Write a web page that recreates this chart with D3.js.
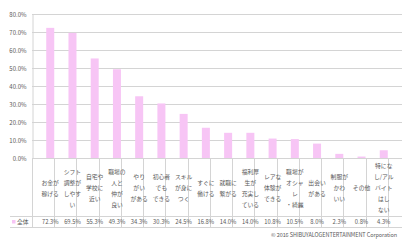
<!DOCTYPE html>
<html>
<head>
<meta charset="utf-8">
<script src="https://cdn.jsdelivr.net/npm/d3@7"></script>
<style>
    body { margin: 0; background: #fff; }
    text { font-family: "Noto Sans CJK JP", "Noto Sans", sans-serif; fill: #595959; }
</style>
</head>
<body>
<script>
// categories (line breaks as in the table)
const categories = [
    "お金が\n稼げる", "シフト\n調整が\nしやす\nい", "自宅や\n学校に\n近い", "職場の\n人と\n仲が\n良い",
    "やり\nがい\nがある", "初心者\nでも\nできる", "スキル\nが身に\nつく", "すぐに\n働ける",
    "就職に\n繋がる", "福利厚\n生が\n充実し\nている", "レアな\n体験が\nできる", "職場が\nオシャ\nレ\n・綺麗",
    "出会い\nがある", "制服が\nかわ\nいい", "その他", "特にな\nし/アル\nバイト\nはし\nない"
];
const values = [72.3, 69.5, 55.3, 49.3, 34.3, 30.3, 24.5, 16.8, 14.0, 14.0, 10.8, 10.5, 8.0, 2.3, 0.8, 4.3];
const yTicks = [0, 10, 20, 30, 40, 50, 60, 70, 80];
const seriesName = "全体";

const width = 403, height = 242;
const plotLeft = 32, plotRight = 402, plotTop = 14, plotBottom = 158;
const rowSplit = 216, rowEnd = 227;
const pink = "#f7c5f5";

let svg = d3.select("body")
    .append("svg")
    .attr("width", width)
    .attr("height", height);

let x = d3.scaleBand()
    .domain(d3.range(categories.length))
    .range([plotLeft, plotRight])
    .padding(0.64);

let y = d3.scaleLinear()
    .domain([0, 80])
    .range([plotBottom, plotTop]);

// gridlines
svg.selectAll("line.grid")
    .data(yTicks)
    .enter()
    .append("line")
    .attr("class", "grid")
    .attr("x1", plotLeft)
    .attr("x2", plotRight)
    .attr("y1", d => y(d) + 0.5)
    .attr("y2", d => y(d) + 0.5)
    .attr("stroke", "#d4d4d4")
    .attr("stroke-width", 1);

// y axis
let yAxis = svg.append("g")
    .attr("transform", `translate(${plotLeft + 0.5},0)`)
    .call(d3.axisLeft(y).tickValues(yTicks).tickSize(0).tickPadding(6)
        .tickFormat(d => d.toFixed(1) + "%"));
yAxis.select(".domain").attr("stroke", "#d4d4d4");
yAxis.selectAll("text")
    .attr("font-size", "6px")
    .attr("font-family", "\"Noto Sans CJK JP\", sans-serif")
    .attr("fill", "#595959")
    .attr("dy", "0.35em");

// bars
svg.selectAll("rect.bar")
    .data(values)
    .enter()
    .append("rect")
    .attr("class", "bar")
    .attr("x", (d, i) => x(i))
    .attr("width", x.bandwidth())
    .attr("y", d => y(d))
    .attr("height", d => y(0) - y(d))
    .attr("fill", pink);

// table lines
const step = x.step();
let table = svg.append("g");
let colEdges = d3.range(categories.length + 1).map(i => plotLeft + i * step);
table.selectAll("line.col")
    .data(colEdges)
    .enter()
    .append("line")
    .attr("x1", d => Math.round(d) + 0.5)
    .attr("x2", d => Math.round(d) + 0.5)
    .attr("y1", plotBottom)
    .attr("y2", rowEnd)
    .attr("stroke", "#d4d4d4");
[rowSplit, rowEnd].forEach(yy => {
    table.append("line")
        .attr("x1", 10)
        .attr("x2", plotRight)
        .attr("y1", yy + 0.5)
        .attr("y2", yy + 0.5)
        .attr("stroke", "#d4d4d4");
});

// category labels
const lineH = 11;
const midY = (plotBottom + rowSplit) / 2 + 1;
categories.forEach((c, i) => {
    let lines = c.split("\n");
    let cx = x(i) + x.bandwidth() / 2;
    let t = table.append("text")
        .attr("text-anchor", "middle")
        .attr("font-size", "5.8px");
    lines.forEach((l, k) => {
        t.append("tspan")
            .attr("x", cx)
            .attr("y", midY + (k - (lines.length - 1) / 2) * lineH)
            .attr("dy", "0.35em")
            .text(l);
    });
});

// value row
table.selectAll("text.val")
    .data(values)
    .enter()
    .append("text")
    .attr("class", "val")
    .attr("x", (d, i) => x(i) + x.bandwidth() / 2)
    .attr("y", (rowSplit + rowEnd) / 2 + 0.5)
    .attr("dy", "0.35em")
    .attr("text-anchor", "middle")
    .attr("font-size", "5.8px")
    .text(d => d.toFixed(1) + "%");

// legend key
table.append("rect")
    .attr("x", 12)
    .attr("y", (rowSplit + rowEnd) / 2 - 1.5)
    .attr("width", 3.5)
    .attr("height", 3.5)
    .attr("fill", pink);
table.append("text")
    .attr("x", 17)
    .attr("y", (rowSplit + rowEnd) / 2 + 0.5)
    .attr("dy", "0.35em")
    .attr("font-size", "5.8px")
    .text(seriesName);

// copyright
svg.append("text")
    .attr("x", 271)
    .attr("y", 237)
    .attr("font-size", "5.5px")
    .attr("textLength", 126)
    .attr("lengthAdjust", "spacing")
    .text("© 2016 SHIBUYALOGENTERTAINMENT  Corporation");
</script>
</body>
</html>
